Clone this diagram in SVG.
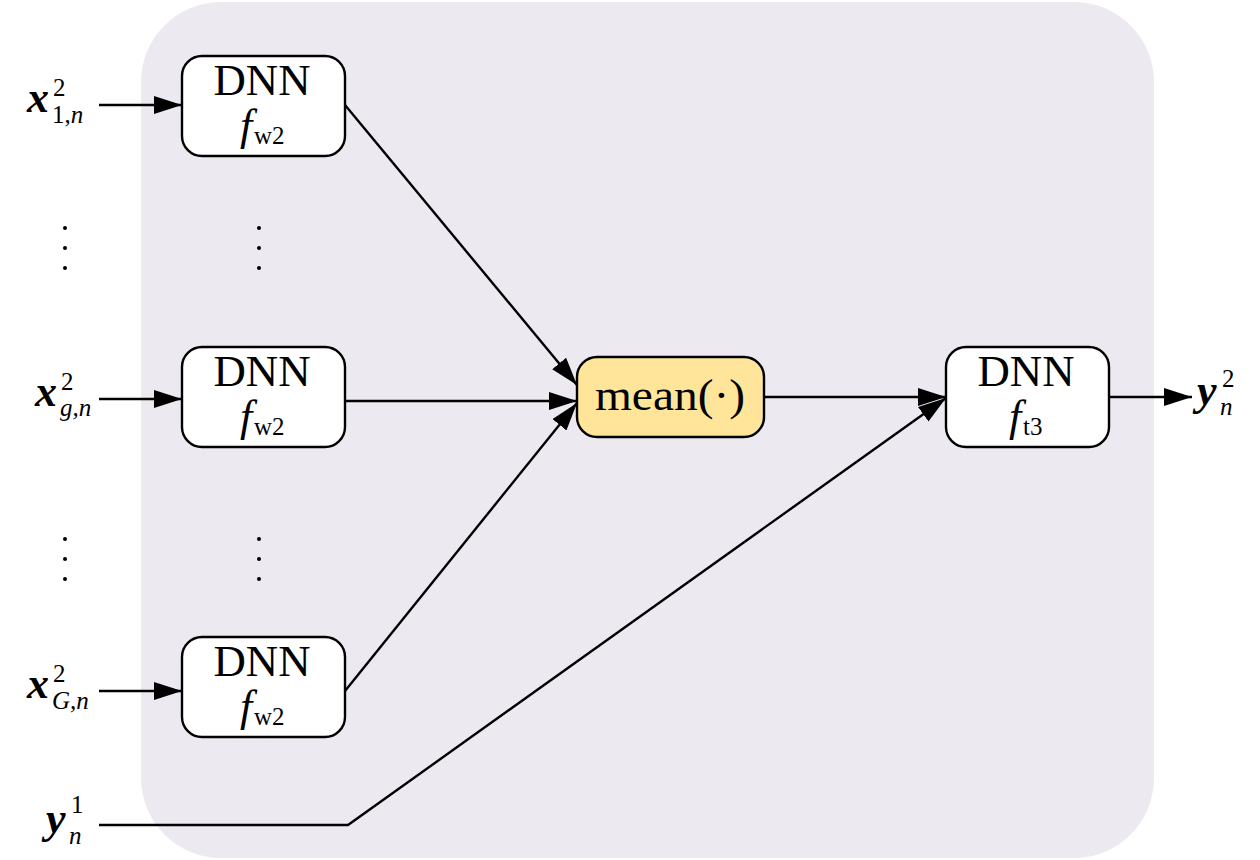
<svg xmlns="http://www.w3.org/2000/svg" width="1260" height="860" viewBox="0 0 1260 860">
<defs>
<marker id="ahl" viewBox="0 0 10 10" refX="10" refY="5" markerWidth="28" markerHeight="18" markerUnits="userSpaceOnUse" orient="auto" preserveAspectRatio="none">
<path d="M0,0 L10,5 L0,10 z" fill="#000"/>
</marker>
<style>
.box{fill:#fff;stroke:#000;stroke-width:2.4}
.mean{fill:#FFE599;stroke:#000;stroke-width:2.4}
.ln{fill:none;stroke:#000;stroke-width:2.4}
.t{font-family:"Liberation Serif","DejaVu Serif",serif;fill:#000}
.big{font-size:44px}
.lab{font-size:44px;font-style:italic;font-weight:bold}
.it{font-style:italic}
.sm{font-size:25px}
.dot{fill:#000}
</style>
</defs>
<rect x="141" y="2" width="1013" height="856" rx="80" ry="80" fill="#ECE9F1"/>
<g id="connectors">
<path class="ln" d="M99,105 L182,105" marker-end="url(#ahl)"/>
<path class="ln" d="M99,399 L182,399" marker-end="url(#ahl)"/>
<path class="ln" d="M99,691 L182,691" marker-end="url(#ahl)"/>
<path class="ln" d="M345,105 L577,385" marker-end="url(#ahl)"/>
<path class="ln" d="M345,401 L577,401" marker-end="url(#ahl)"/>
<path class="ln" d="M345,691 L577,403" marker-end="url(#ahl)"/>
<path class="ln" d="M764,397 L946,397" marker-end="url(#ahl)"/>
<path class="ln" d="M99,825 L348,825 L946,398" marker-end="url(#ahl)"/>
<path class="ln" d="M1109,397 L1192,397" marker-end="url(#ahl)"/>
</g>
<g id="dots">
<circle class="dot" cx="65" cy="228" r="2"/><circle class="dot" cx="65" cy="248" r="2"/><circle class="dot" cx="65" cy="268" r="2"/>
<circle class="dot" cx="259" cy="228" r="2"/><circle class="dot" cx="259" cy="248" r="2"/><circle class="dot" cx="259" cy="268" r="2"/>
<circle class="dot" cx="65" cy="539" r="2"/><circle class="dot" cx="65" cy="559" r="2"/><circle class="dot" cx="65" cy="579" r="2"/>
<circle class="dot" cx="259" cy="539" r="2"/><circle class="dot" cx="259" cy="559" r="2"/><circle class="dot" cx="259" cy="579" r="2"/>
</g>
<g id="dnn1">
<rect class="box" x="182" y="56" width="163" height="100" rx="20"/>
<text class="t big" x="262" y="95" text-anchor="middle" textLength="97" lengthAdjust="spacingAndGlyphs">DNN</text>
<text class="t big it" x="240" y="140">f</text>
<text class="t sm" x="254" y="144">w2</text>
</g>
<g id="dnn2">
<rect class="box" x="182" y="347" width="163" height="100" rx="20"/>
<text class="t big" x="262" y="386" text-anchor="middle" textLength="97" lengthAdjust="spacingAndGlyphs">DNN</text>
<text class="t big it" x="240" y="431">f</text>
<text class="t sm" x="254" y="435">w2</text>
</g>
<g id="dnn3">
<rect class="box" x="182" y="637" width="163" height="100" rx="20"/>
<text class="t big" x="262" y="676" text-anchor="middle" textLength="97" lengthAdjust="spacingAndGlyphs">DNN</text>
<text class="t big it" x="240" y="721">f</text>
<text class="t sm" x="254" y="725">w2</text>
</g>
<g id="mean">
<rect class="mean" x="577" y="357" width="187" height="80" rx="20"/>
<text class="t big" x="670" y="410" text-anchor="middle" textLength="150" lengthAdjust="spacingAndGlyphs">mean(·)</text>
</g>
<g id="dnn4">
<rect class="box" x="946" y="347" width="163" height="100" rx="20"/>
<text class="t big" x="1026" y="386" text-anchor="middle" textLength="97" lengthAdjust="spacingAndGlyphs">DNN</text>
<text class="t big it" x="1009" y="431">f</text>
<text class="t sm" x="1023" y="435">t3</text>
</g>
<g id="labels">
<text class="t lab" x="27" y="112">x</text>
<text class="t sm" x="53" y="96">2</text>
<text class="t sm" x="52" y="123">1,<tspan class="it">n</tspan></text>
<text class="t lab" x="35" y="406">x</text>
<text class="t sm" x="61" y="390">2</text>
<text class="t sm it" x="60" y="416">g,n</text>
<text class="t lab" x="27" y="698">x</text>
<text class="t sm" x="53" y="682">2</text>
<text class="t sm it" x="52" y="709">G,n</text>
<text class="t lab" x="46" y="833">y</text>
<text class="t sm" x="71" y="813">1</text>
<text class="t sm it" x="69" y="844">n</text>
<text class="t lab" x="1197" y="405">y</text>
<text class="t sm" x="1222" y="387">2</text>
<text class="t sm it" x="1220" y="415">n</text>
</g>
</svg>
